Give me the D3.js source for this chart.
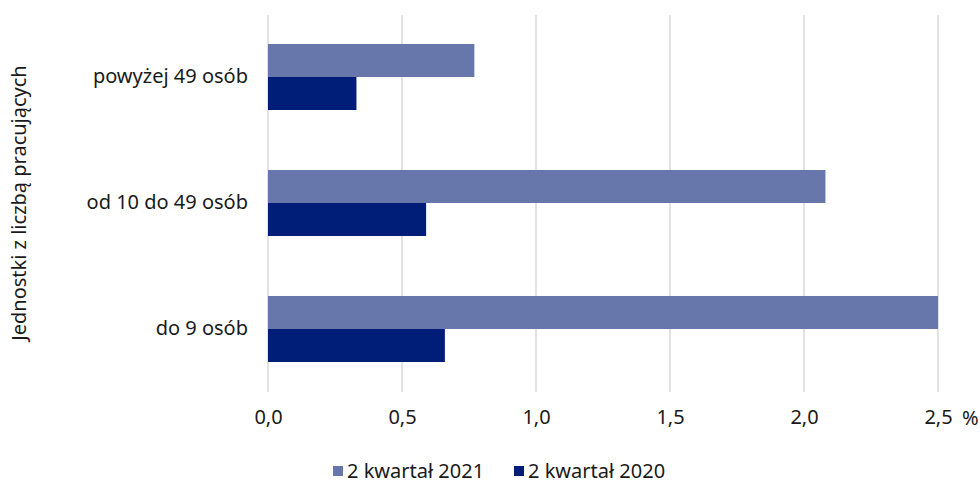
<!DOCTYPE html>
<html>
<head>
<meta charset="utf-8">
<script src="https://cdn.jsdelivr.net/npm/d3@7"></script>
<style>
  body { margin: 0; background: #fff; }
  text { font-family: "Noto Sans", sans-serif; fill: #1a1a1a; }
</style>
</head>
<body>
<svg id="chart" width="980" height="484"></svg>
<script>
// kategorie (od gory)
var categories = ["powyżej 49 osób", "od 10 do 49 osób", "do 9 osób"];
var seriesNames = ["2 kwartał 2021", "2 kwartał 2020"];
var values2021 = [0.77, 2.08, 2.5];
var values2020 = [0.33, 0.59, 0.66];
var ticks = [0, 0.5, 1.0, 1.5, 2.0, 2.5];
var colors = ["#6777ab", "#001e78"];
var fs = "20px";

var svg = d3.select("#chart");

var x = d3.scaleLinear().domain([0, 2.5]).range([268, 938]);
var y = d3.scaleBand().domain(categories).range([14, 392])
    .paddingInner(0.476).paddingOuter(0.238);
var sub = d3.scaleBand().domain(seriesNames).range([0, y.bandwidth()]);

var fmt = function (d) { return d3.format(".1f")(d).replace(".", ","); };

// siatka
svg.append("g")
  .selectAll("line")
  .data(ticks)
  .enter().append("line")
    .attr("x1", function (d) { return x(d); })
    .attr("x2", function (d) { return x(d); })
    .attr("y1", 15)
    .attr("y2", 392)
    .attr("stroke", "#d9d9d9")
    .attr("stroke-width", 1.5);

// slupki
var rows = categories.map(function (c, i) {
  return [
    {cat: c, s: seriesNames[0], v: values2021[i]},
    {cat: c, s: seriesNames[1], v: values2020[i]}
  ];
});

svg.append("g")
  .selectAll("g")
  .data(rows)
  .enter().append("g")
  .selectAll("rect")
  .data(function (d) { return d; })
  .enter().append("rect")
    .attr("x", x(0))
    .attr("y", function (d) { return y(d.cat) + sub(d.s); })
    .attr("width", function (d) { return x(d.v) - x(0); })
    .attr("height", sub.bandwidth())
    .attr("fill", function (d, i) { return colors[i]; });

// os X
var xAxis = svg.append("g")
  .attr("transform", "translate(0,392)")
  .call(d3.axisBottom(x).tickValues(ticks).tickFormat(fmt).tickSize(0).tickPadding(18));
xAxis.select(".domain").remove();
xAxis.selectAll("text").style("font-size", fs).style("font-family", "Noto Sans").attr("fill", "#1a1a1a");

svg.append("text")
  .attr("x", 962)
  .attr("y", 425)
  .style("font-size", fs)
  .text("%");

// os Y
var yAxis = svg.append("g")
  .attr("transform", "translate(268,0)")
  .call(d3.axisLeft(y).tickSize(0).tickPadding(20));
yAxis.select(".domain").remove();
yAxis.selectAll("text").style("font-size", fs).style("font-family", "Noto Sans").attr("fill", "#1a1a1a");

svg.append("text")
  .attr("transform", "translate(26,203) rotate(-90)")
  .attr("text-anchor", "middle")
  .style("font-size", fs)
  .text("Jednostki z liczbą pracujących");

// legenda
var legendX = [333, 514];
var legend = svg.append("g")
  .selectAll("g")
  .data(seriesNames)
  .enter().append("g")
    .attr("transform", function (d, i) { return "translate(" + legendX[i] + ",466)"; });
legend.append("rect")
  .attr("width", 10).attr("height", 10)
  .attr("y", 0)
  .attr("fill", function (d, i) { return colors[i]; });
legend.append("text")
  .attr("x", 14)
  .attr("y", 12)
  .style("font-size", fs)
  .text(function (d) { return d; });
</script>
</body>
</html>
